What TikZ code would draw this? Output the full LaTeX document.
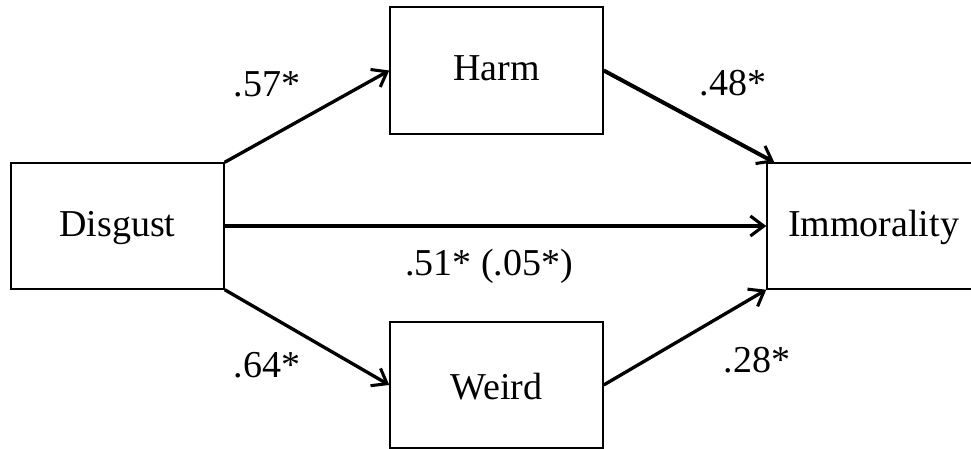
\documentclass[tikz,border=0pt]{standalone}
\usepackage{fontspec}
\setmainfont{Liberation Serif}
\usetikzlibrary{arrows.meta,calc}
\begin{document}
\begin{tikzpicture}[x=0.75pt,y=-0.75pt,
  boxnode/.style={draw=black,line width=1.1pt,minimum width=159.75pt,minimum height=94.5pt,
    inner sep=0pt,font=\fontsize{28.5}{34}\selectfont,text height=21pt,text depth=6pt},
  pathlab/.style={font=\fontsize{28.5}{34}\selectfont,anchor=base,inner sep=0pt},
  conn/.style={line width=2.5pt,-{Straight Barb[length=10pt,width=15pt,line width=2.3pt]}}]
\useasboundingbox (0,0) rectangle (971,449);
\fill[white] (0,0) rectangle (971,449);
\clip (0,0) rectangle (971,449);
\node[boxnode] (dis) at (117.5,226) {Disgust};
\node[boxnode,minimum height=95.25pt] (harm) at (496.5,70.5) {Harm};
\node[boxnode,text height=27pt] (weird) at (496.5,385) {Weird};
\node[boxnode] (imm) at (873.5,226) {Immorality};
\coordinate (immtop) at ([xshift=6pt]imm.north west);
\draw[conn] (dis.north east) -- (harm.west);
\draw[conn,line width=3pt] (harm.east) -- (immtop);
\draw[conn] (dis.east) -- (imm.west);
\draw[conn] (dis.south east) -- (weird.west);
\draw[conn] (weird.east) -- (imm.south west);
\node[pathlab] (l57) at (267,97) {.57*};
\node[pathlab] (l48) at (733,96) {.48*};
\node[pathlab] (l64) at (267,377) {.64*};
\node[pathlab] (l28) at (757,372) {.28*};
\node[pathlab] (l51) at (489,275) {.51* (.05*)};
\end{tikzpicture}
\end{document}
